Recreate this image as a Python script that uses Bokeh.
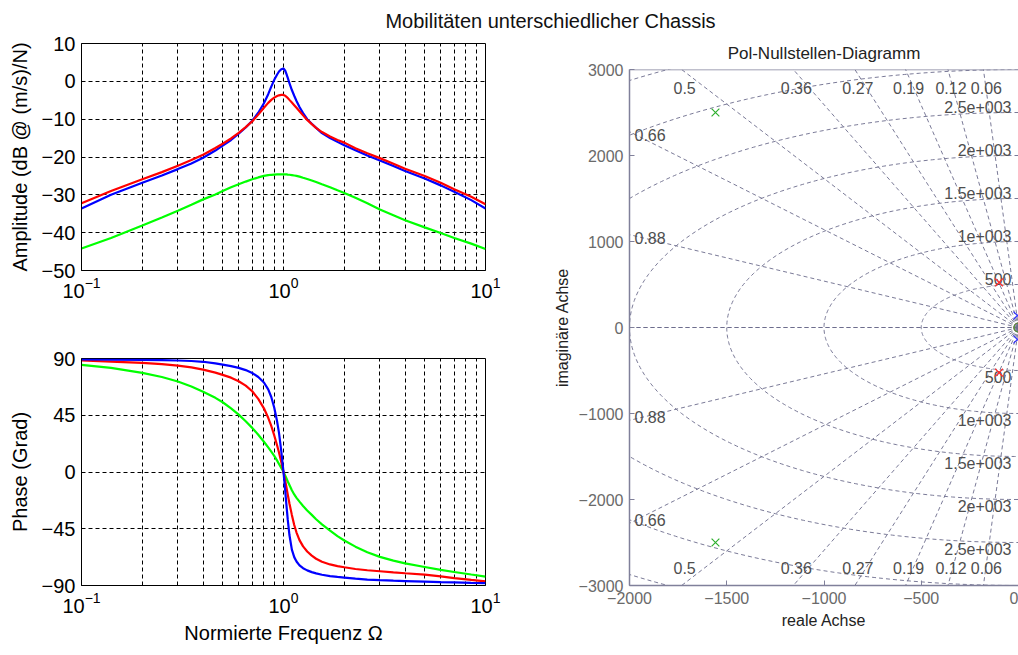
import numpy as np
from bokeh.plotting import figure
from bokeh.layouts import column, row
from bokeh.models import FixedTicker, LogTickFormatter, Span
from bokeh.core.properties import value
from bokeh.embed import file_html
from bokeh.resources import INLINE

FONT = "Liberation Sans"

# ---------------------------------------------------------------- Bode data
freq = [0.1, 0.14, 0.2, 0.25, 0.3, 0.35, 0.4, 0.46, 0.5, 0.55, 0.6, 0.65, 0.7, 0.75, 0.8, 0.84,
        0.87, 0.9, 0.93, 0.95, 0.975, 1.0, 1.02, 1.035, 1.05, 1.07, 1.1, 1.13, 1.16, 1.2, 1.25,
        1.31, 1.38, 1.45, 1.55, 1.7, 1.85, 2, 2.27, 2.6, 3, 3.5, 4, 5, 6, 7, 8.5, 10]

amp_blue = [-33.6, -30.0, -26.8, -24.9, -23.2, -21.7, -20.2, -18.3, -17.0, -15.5, -13.8, -12.2,
            -10.4, -8.3, -5.8, -3.4, -1.4, 0.4, 1.8, 2.6, 3.2, 3.4, 2.8, 1.9, 0.9, -0.5, -2.3, -3.8,
            -5.2, -6.8, -8.4, -10.0, -11.2, -12.3, -13.7, -15.0, -16.0, -16.9, -18.2, -19.6, -20.9,
            -22.4, -23.7, -25.7, -27.5, -29.2, -31.4, -33.6]
amp_red = [-32.2, -29.0, -25.9, -24.0, -22.3, -20.8, -19.4, -17.6, -16.5, -15.1, -13.6, -12.1,
           -10.6, -8.8, -7.0, -5.7, -4.9, -4.3, -3.9, -3.7, -3.6, -3.6, -3.8, -4.1, -4.4, -4.9, -5.6,
           -6.3, -7.0, -7.9, -9.0, -10.2, -11.3, -12.3, -13.4, -14.6, -15.5, -16.2, -17.7, -19.0,
           -20.3, -21.8, -23.1, -25.0, -26.8, -28.5, -30.5, -32.5]
amp_green = [-44.2, -41.4, -38.1, -36.0, -34.2, -32.6, -31.2, -29.9, -29.0, -28.0, -27.2, -26.5,
             -25.9, -25.4, -25.0, -24.8, -24.7, -24.65, -24.6, -24.6, -24.6, -24.6, -24.6, -24.6,
             -24.65, -24.7, -24.8, -24.9, -25.0, -25.2, -25.5, -25.8, -26.2, -26.6, -27.2, -28.0,
             -28.8, -29.5, -30.8, -32.2, -33.9, -35.4, -36.7, -38.6, -40.1, -41.4, -42.9, -44.3]

phase_blue = [89.2, 89.0, 88.9, 88.7, 88.4, 88.0, 87.4, 86.2, 85.2, 84.0, 82.6, 80.8, 78.5, 75.3,
              71.0, 65.5, 59.5, 51.0, 40.0, 31.0, 16.5, 0.0, -15.0, -27.0, -38.0, -50.0, -61.5,
              -67.5, -71.0, -74.0, -76.3, -78.0, -79.4, -80.4, -81.5, -82.5, -83.2, -83.7, -84.6,
              -85.3, -85.8, -86.2, -86.5, -87.0, -87.4, -87.6, -87.9, -88.1]
phase_red = [88.4, 87.6, 86.6, 85.6, 84.4, 83.0, 81.2, 78.8, 77.0, 74.8, 72.0, 68.5, 64.0, 58.0,
             50.5, 43.0, 36.5, 29.0, 21.0, 15.5, 8.0, 0.0, -7.0, -12.5, -18.0, -25.0, -34.0, -42.0,
             -48.0, -54.0, -59.0, -63.0, -66.3, -68.8, -71.2, -73.3, -74.6, -75.5, -76.9, -77.9,
             -78.7, -79.6, -80.3, -81.4, -82.8, -84.1, -85.6, -86.8]
phase_green = [85.0, 82.5, 78.6, 75.3, 71.8, 67.8, 63.7, 58.8, 55.3, 50.5, 45.5, 40.2, 35.0, 29.5,
               24.0, 19.5, 16.2, 12.8, 9.0, 6.4, 3.2, 0.0, -3.0, -5.2, -7.5, -10.3, -14.5, -17.8,
               -20.5, -23.5, -27.0, -30.5, -34.0, -37.5, -41.5, -46.5, -50.8, -54.3, -59.2, -63.6,
               -67.3, -70.3, -72.5, -75.3, -77.6, -79.3, -81.3, -82.9]

decade_ticks = [0.1, 1, 10]
minor_freq = [m * d for d in (0.1, 1) for m in range(2, 10)]
amp_ticks = [-50, -40, -30, -20, -10, 0, 10]
phase_ticks = [-90, -45, 0, 45, 90]

# ---------------------------------------------------------- pole-zero data
zeta = [0.06, 0.12, 0.19, 0.27, 0.36, 0.5, 0.66, 0.88]
zeta_labels = ["0.06", "0.12", "0.19", "0.27", "0.36", "0.5", "0.66", "0.88"]
wn = [500, 1000, 1500, 2000, 2500, 3000, 3500]
wn_labels = ["500", "1e+003", "1.5e+003", "2e+003", "2.5e+003"]
pole_re = [-6, -100, -1558]
pole_im = [140, 525, 2500]
pole_colors = ["#3030ff", "#ff3030", "#30b030"]
zero_re = [0, 0, 0]
zero_im = [0, 0, 0]
re_ticks = [-2000, -1500, -1000, -500, 0]
im_ticks = [-3000, -2000, -1000, 0, 1000, 2000, 3000]
re_limits = (-2000, 0)
im_limits = (-3000, 3000)

main_title = "Mobilitäten unterschiedlicher Chassis"

# ------------------------------------------------------------- heading
head = figure(width=1018, height=30, x_range=(0, 1018), y_range=(0, 30),
              output_backend="svg", toolbar_location=None,
              x_axis_location=None, y_axis_location=None, min_border=0)
head.grid.visible = False
head.outline_line_color = None
head.text(x=[550], y=[10], text=[main_title], text_align="center", text_baseline="middle",
          text_font=value(FONT), text_font_size="20px", text_color="#111111")


def bode_panel(height, y_range, y_ticks, y_label, top, bottom, x_label=None):
    p = figure(width=540, height=height, x_axis_type="log", x_range=(0.1, 10), y_range=y_range,
               output_backend="svg", toolbar_location=None,
               min_border_left=81, min_border_right=55, min_border_top=top, min_border_bottom=bottom)
    xt = FixedTicker(ticks=decade_ticks, minor_ticks=minor_freq)
    yt = FixedTicker(ticks=y_ticks)
    p.xaxis.ticker = xt
    p.xgrid.ticker = xt
    p.yaxis.ticker = yt
    p.ygrid.ticker = yt
    p.xaxis.formatter = LogTickFormatter()
    for ax in p.axis:
        ax.major_label_text_font = FONT
        ax.major_label_text_font_size = "20px"
        ax.major_label_text_color = "black"
        ax.major_tick_in = 0
        ax.major_tick_out = 0
        ax.minor_tick_in = 0
        ax.minor_tick_out = 0
        ax.axis_line_color = "black"
        ax.axis_label_text_font = FONT
        ax.axis_label_text_font_size = "20px"
        ax.axis_label_text_font_style = "normal"
        ax.axis_label_text_color = "black"
        ax.major_label_standoff = 6
    p.yaxis.axis_label = y_label
    p.yaxis.axis_label_standoff = 8
    if x_label:
        p.xaxis.axis_label = x_label
        p.xaxis.axis_label_standoff = 6
    for g in (p.xgrid, p.ygrid):
        g.grid_line_color = "black"
        g.grid_line_dash = "4 3"
        g.grid_line_width = 1
    p.xgrid.minor_grid_line_color = "black"
    p.xgrid.minor_grid_line_dash = "4 3"
    p.outline_line_color = "black"
    p.outline_line_alpha = 1
    return p


amp = bode_panel(280, (-50, 10), amp_ticks, "Amplitude (dB @ (m/s)/N)", 13, 40)
for ys, c in ((amp_green, "#00ff00"), (amp_blue, "#0000ff"), (amp_red, "#ff0000")):
    amp.line(freq, ys, line_color=c, line_width=2.2)

phase = bode_panel(345, (-90, 90), phase_ticks, "Phase (Grad)", 48, 70,
                   x_label="Normierte Frequenz \u03a9")
for ys, c in ((phase_green, "#00ff00"), (phase_red, "#ff0000"), (phase_blue, "#0000ff")):
    phase.line(freq, ys, line_color=c, line_width=2.2)

# ---------------------------------------------------------- pole-zero map
pz = figure(width=478, height=625, x_range=re_limits, y_range=im_limits,
            output_backend="svg", toolbar_location=None, title="Pol-Nullstellen-Diagramm",
            min_border_left=89, min_border_right=0, min_border_top=39, min_border_bottom=70)
pz.title.align = "center"
pz.title.text_font = FONT
pz.title.text_font_size = "17px"
pz.title.text_font_style = "normal"
pz.title.text_color = "#222222"
pz.title.standoff = 14
pz.grid.visible = False
pz.outline_line_color = None
pz.xaxis.ticker = re_ticks
pz.yaxis.ticker = im_ticks
frame_color = "#80809a"
for ax in pz.axis:
    ax.major_label_text_font = FONT
    ax.major_label_text_font_size = "16px"
    ax.major_label_text_color = "#6a6a6a"
    ax.major_tick_in = 5
    ax.major_tick_out = 0
    ax.minor_tick_in = 0
    ax.minor_tick_out = 0
    ax.axis_line_color = frame_color
    ax.axis_line_width = 1.5
    ax.major_tick_line_color = frame_color
    ax.axis_label_text_font = FONT
    ax.axis_label_text_font_size = "16px"
    ax.axis_label_text_font_style = "normal"
    ax.axis_label_text_color = "#222222"
    ax.major_label_standoff = 6
pz.xaxis.axis_label = "reale Achse"
pz.yaxis.axis_label = "imaginäre Achse"
# upper edge of the plotting box
pz.add_layout(Span(location=im_limits[1], dimension="width", line_color=frame_color, line_width=1.5))

# damping rays and natural-frequency arcs
reach = 9000
ray_xs, ray_ys = [], []
for z in zeta + [1.0]:
    s = np.sqrt(1 - z * z)
    for sign in (1, -1):
        ray_xs.append([0, -reach * z])
        ray_ys.append([0, sign * reach * s])
theta = np.linspace(np.pi / 2, 3 * np.pi / 2, 241)
arc_xs = [w * np.cos(theta) for w in wn]
arc_ys = [w * np.sin(theta) for w in wn]
grid_style = dict(line_color="#6c6c8c", line_dash="4 3", line_width=1, line_alpha=0.9)
pz.multi_line(ray_xs, ray_ys, **grid_style)
pz.multi_line(arc_xs, arc_ys, **grid_style)

# damping labels where each ray leaves the visible area
x_lo, y_hi = re_limits[0], im_limits[1]
tx, ty, tt, talign, tyoff, txoff = [], [], [], [], [], []
for z, lab in zip(zeta, zeta_labels):
    s = np.sqrt(1 - z * z)
    x_top = -y_hi * z / s
    for sign in (1, -1):
        if x_top >= x_lo:
            tx.append(x_top); ty.append(sign * y_hi); talign.append("center")
            tyoff.append(18 * sign); txoff.append(3)
        else:
            tx.append(x_lo); ty.append(sign * (-x_lo) * s / z); talign.append("left")
            tyoff.append(3 * sign); txoff.append(5)
        tt.append(lab)
pz.text(x=tx, y=ty, text=tt, text_align=talign, text_baseline="middle",
        x_offset=txoff, y_offset=tyoff, text_font=value(FONT), text_font_size="16px",
        text_color="#4e4e4e")

# natural-frequency labels next to the imaginary axis
wx, wy, wt, wb = [], [], [], []
for w, lab in zip(wn, wn_labels):
    for sign, base in ((1, "bottom"), (-1, "top")):
        wx.append(0); wy.append(sign * w); wt.append(lab); wb.append(base)
pz.text(x=wx, y=wy, text=wt, text_align="right", text_baseline=wb, x_offset=-7,
        text_font=value(FONT), text_font_size="16px", text_color="#4e4e4e")

# poles and zeros
for re_, im_, c in zip(pole_re, pole_im, pole_colors):
    pz.scatter([re_, re_], [im_, -im_], marker="x", size=11, line_color=c, line_width=1.2)
for re_, im_, c in zip(zero_re, zero_im, pole_colors):
    pz.scatter([re_], [im_], marker="circle", size=9, fill_color=None, line_color=c, line_width=1.2)

layout = column(head, row(column(amp, phase), pz))
open("out.html", "w").write(file_html(layout, INLINE))
